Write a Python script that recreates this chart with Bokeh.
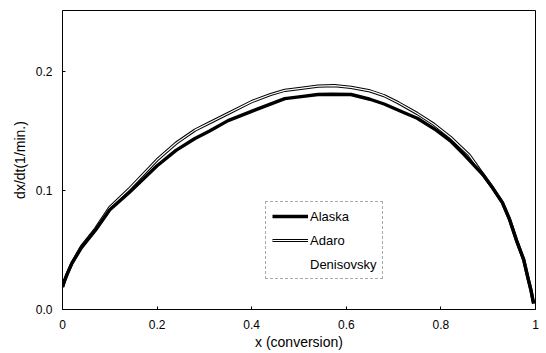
from bokeh.plotting import figure
from bokeh.models import Range1d, FixedTicker, Legend, LegendItem
from bokeh.embed import file_html
from bokeh.resources import INLINE

# Data
alaska_x = [0, 0.005, 0.01, 0.02, 0.04, 0.07, 0.10, 0.14, 0.20, 0.24, 0.28, 0.31, 0.35, 0.42, 0.47, 0.50, 0.54, 0.57, 0.61, 0.65, 0.68, 0.72, 0.75, 0.79, 0.82, 0.85, 0.89, 0.91, 0.93, 0.945, 0.96, 0.975, 0.985, 0.99, 0.996]
alaska_y = [0.019, 0.025, 0.030, 0.039, 0.052, 0.067, 0.084, 0.098, 0.121, 0.134, 0.144, 0.150, 0.159, 0.170, 0.1775, 0.179, 0.181, 0.1812, 0.181, 0.177, 0.173, 0.166, 0.161, 0.151, 0.142, 0.130, 0.113, 0.102, 0.090, 0.076, 0.058, 0.042, 0.025, 0.017, 0.005]

adaro_x = [0, 0.005, 0.01, 0.02, 0.04, 0.07, 0.10, 0.14, 0.20, 0.24, 0.28, 0.31, 0.35, 0.40, 0.44, 0.47, 0.50, 0.54, 0.575, 0.61, 0.65, 0.68, 0.71, 0.75, 0.785, 0.82, 0.86, 0.89, 0.91, 0.93, 0.945, 0.96, 0.975, 0.985, 0.99, 0.996]
adaro_y = [0.019, 0.025, 0.030, 0.039, 0.053, 0.068, 0.086, 0.101, 0.126, 0.140, 0.151, 0.157, 0.165, 0.175, 0.181, 0.1845, 0.186, 0.188, 0.1885, 0.187, 0.184, 0.180, 0.174, 0.165, 0.156, 0.145, 0.130, 0.113, 0.102, 0.090, 0.076, 0.058, 0.042, 0.025, 0.017, 0.005]

denis_x = adaro_x
denis_y = adaro_y

x_ticks = [0, 0.2, 0.4, 0.6, 0.8, 1.0]
x_tick_labels = ["0", "0.2", "0.4", "0.6", "0.8", "1"]
y_ticks = [0, 0.1, 0.2]
y_tick_labels = ["0.0", "0.1", "0.2"]

FONT = "Liberation Sans"

p = figure(width=546, height=353, output_backend="svg", toolbar_location=None,
           x_range=Range1d(0, 1), y_range=Range1d(0, 0.2517))
p.min_border_left = 62
p.min_border_right = 11
p.min_border_top = 10
p.min_border_bottom = 44
p.background_fill_color = "white"
p.border_fill_color = "white"
p.outline_line_color = "black"
p.outline_line_width = 1
p.xgrid.visible = False
p.ygrid.visible = False

for ax in (p.xaxis[0], p.yaxis[0]):
    ax.axis_line_color = "black"
    ax.major_tick_in = 3
    ax.major_tick_out = 0
    ax.minor_tick_line_color = None
    ax.major_label_text_font = FONT
    ax.major_label_text_font_size = "12px"
    ax.major_label_text_color = "black"
    ax.axis_label_text_font = FONT
    ax.axis_label_text_font_size = "14px"
    ax.axis_label_text_font_style = "normal"
    ax.axis_label_text_color = "black"

p.xaxis.ticker = FixedTicker(ticks=x_ticks)
p.xaxis.major_label_overrides = {t: l for t, l in zip(x_ticks, x_tick_labels)}
p.yaxis.ticker = FixedTicker(ticks=y_ticks)
p.yaxis.major_label_overrides = {t: l for t, l in zip(y_ticks, y_tick_labels)}
p.xaxis.axis_label = "x (conversion)"
p.yaxis.axis_label = "dx/dt(1/min.)"
p.xaxis.major_label_standoff = 10
p.xaxis.axis_label_standoff = 2
p.yaxis.major_label_standoff = 10
p.yaxis.axis_label_standoff = 5

r_adaro = p.line(adaro_x, adaro_y, line_color="black", line_width=3.2, line_join="round")
r_denis = p.line(denis_x, denis_y, line_color="white", line_width=1.2, line_join="round")
r_alaska = p.line(alaska_x, alaska_y, line_color="black", line_width=3.4, line_join="round")

legend = Legend(items=[
    LegendItem(label="Alaska", renderers=[r_alaska]),
    LegendItem(label="Adaro", renderers=[r_adaro, r_denis]),
    LegendItem(label="Denisovsky", renderers=[r_denis]),
], location=(203, 30))
legend.label_text_font = FONT
legend.label_text_font_size = "13px"
legend.label_text_color = "black"
legend.glyph_width = 36
legend.glyph_height = 16
legend.label_height = 16
legend.label_standoff = 2
legend.spacing = 8
legend.padding = 6
legend.margin = 0
legend.border_line_color = "#555555"
legend.border_line_width = 1
legend.border_line_dash = "3 1"
legend.background_fill_color = "white"
legend.background_fill_alpha = 1
p.add_layout(legend, "center")

open("out.html", "w").write(file_html(p, INLINE))
